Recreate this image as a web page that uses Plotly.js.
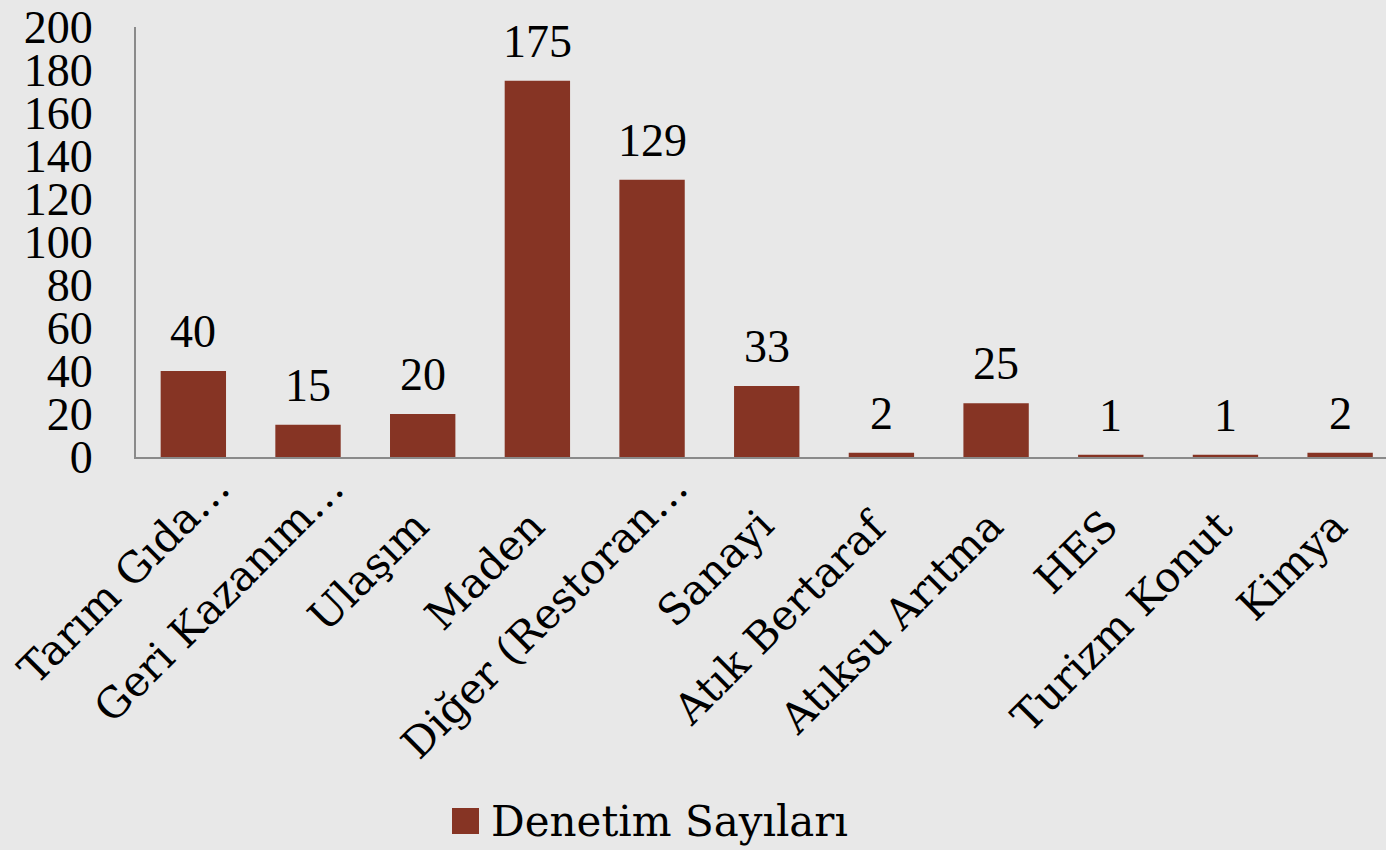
<!DOCTYPE html>
<html>
<head>
<meta charset="utf-8">
<script src="https://cdn.plot.ly/plotly-3.0.1.min.js"></script>
<style>
html,body{margin:0;padding:0;background:#e8e8e8;overflow:hidden;}
#chart{width:1386px;height:850px;}
</style>
</head>
<body>
<div id="chart"></div>
<script>
const categories = ["Tarım Gıda…", "Geri Kazanım…", "Ulaşım", "Maden", "Diğer (Restoran…", "Sanayi", "Atık Bertaraf", "Atıksu Arıtma", "HES", "Turizm Konut", "Kimya"];
const values = [40, 15, 20, 175, 129, 33, 2, 25, 1, 1, 2];
const seriesName = "Denetim Sayıları";
const yTicks = [0, 20, 40, 60, 80, 100, 120, 140, 160, 180, 200];

const NUMFONT = "'Liberation Serif', serif";
const TXTFONT = "'DejaVu Serif', 'Liberation Serif', serif";
const BAR = "#863424";

const W = 1386, H = 850;
const M = {l: 136, r: 0, t: 27, b: 393};
const plotW = W - M.l - M.r, plotH = H - M.t - M.b;
const pxX = px => (px - M.l) / plotW;      // pixel -> paper x
const pxY = py => (H - M.b - py) / plotH;  // pixel -> paper y

const trace = {
  type: "bar",
  x: categories,
  y: values,
  name: seriesName,
  marker: {color: BAR},
  showlegend: false,
  hoverinfo: "none"
};

const annotations = [];
// value labels above bars
categories.forEach((c, i) => {
  annotations.push({
    x: c, y: values[i], xref: "x", yref: "y",
    text: String(values[i]), showarrow: false,
    xanchor: "center", yanchor: "bottom", yshift: 12,
    font: {family: NUMFONT, size: 46, color: "#000"}
  });
});
// rotated category labels below the axis
categories.forEach((c) => {
  const truncated = c.endsWith("…");
  annotations.push({
    x: c, y: 0, xref: "x", yref: "y",
    text: c, showarrow: false, textangle: -45,
    xanchor: "right", yanchor: "top",
    xshift: truncated ? 48 : 19, yshift: truncated ? -3 : -41,
    font: {family: TXTFONT, size: 42, color: "#000"}
  });
});
// legend text
annotations.push({
  x: pxX(489), y: pxY(821), xref: "paper", yref: "paper",
  text: seriesName, showarrow: false,
  xanchor: "left", yanchor: "middle",
  font: {family: TXTFONT, size: 42, color: "#000"}
});

const shapes = [{
  type: "rect", xref: "paper", yref: "paper",
  x0: pxX(452), x1: pxX(479), y0: pxY(834), y1: pxY(808),
  fillcolor: BAR, line: {width: 0}
}];

const layout = {
  width: W,
  height: H,
  paper_bgcolor: "#e8e8e8",
  plot_bgcolor: "#e8e8e8",
  margin: M,
  bargap: 0.43,
  font: {family: NUMFONT, size: 46, color: "#000"},
  xaxis: {
    type: "category",
    range: [-0.5, 10.4],
    showline: true,
    linecolor: "#8a8a8a",
    linewidth: 2,
    showgrid: false,
    zeroline: false,
    showticklabels: false,
    ticks: "",
    automargin: false
  },
  yaxis: {
    range: [0, 200],
    tickvals: yTicks,
    ticktext: yTicks.map(String),
    showline: true,
    linecolor: "#8a8a8a",
    linewidth: 2,
    showgrid: false,
    zeroline: false,
    ticks: "",
    ticklabelstandoff: 32,
    tickfont: {family: NUMFONT, size: 46, color: "#000"},
    automargin: false
  },
  annotations: annotations,
  shapes: shapes,
  showlegend: false
};

Plotly.newPlot("chart", [trace], layout, {displayModeBar: false, staticPlot: true});
</script>
</body>
</html>
